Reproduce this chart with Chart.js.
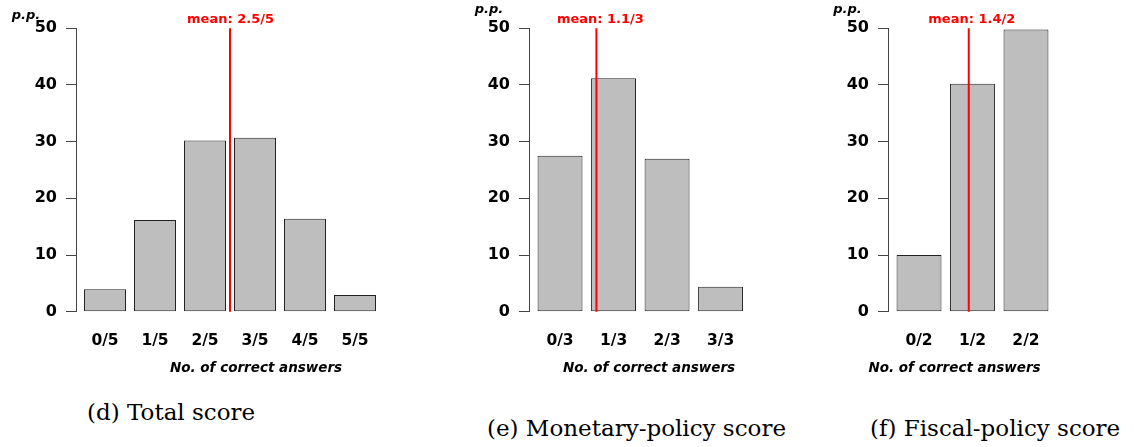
<!DOCTYPE html>
<html>
<head>
<meta charset="utf-8">
<script src="https://cdn.jsdelivr.net/npm/chart.js@4.4.0/dist/chart.umd.min.js"></script>
<style>
  html, body { margin: 0; padding: 0; background: #fff; }
  #wrap { position: relative; width: 1134px; height: 447px; overflow: hidden; }
  canvas { position: absolute; top: 0; }
  .cap { position: absolute; font-family: "DejaVu Serif", serif; font-size: 23px; line-height: 1; color: #000; white-space: nowrap; }
</style>
</head>
<body>
<div id="wrap">
  <canvas id="c1" width="400" height="390" style="left:0px"></canvas>
  <canvas id="c2" width="330" height="390" style="left:440px"></canvas>
  <canvas id="c3" width="334" height="390" style="left:800px"></canvas>
  <div class="cap" style="left:87px;top:401px">(d) Total score</div>
  <div class="cap" style="left:487px;top:417px">(e) Monetary-policy score</div>
  <div class="cap" style="left:870px;top:417px">(f) Fiscal-policy score</div>
</div>
<script>
// share of respondents (p.p.) per number of correct answers
const totalLabels = ["0/5", "1/5", "2/5", "3/5", "4/5", "5/5"];
const totalValues = [3.95, 16.2, 30.2, 30.7, 16.4, 2.95];

const monetaryLabels = ["0/3", "1/3", "2/3", "3/3"];
const monetaryValues = [27.5, 41.2, 27.0, 4.4];

const fiscalLabels = ["0/2", "1/2", "2/2"];
const fiscalValues = [10.0, 40.2, 49.8];

// mean markers: text and where the red line sits (in bar-index units)
const meanTexts = ["mean: 2.5/5", "mean: 1.1/3", "mean: 1.4/2"];
const meanPositions = [2.5, 0.68, 0.93];

const yTicks = [0, 10, 20, 30, 40, 50];
const xTitle = "No. of correct answers";
const yUnit = "p.p.";

// layout per panel (pixels inside each canvas)
const layouts = [
  { id: "c1", yWidth: 76, padRight: 16, ppX: -50, ppY: 19, titleX: 180, labelShift: 0.5 },
  { id: "c2", yWidth: 89, padRight: 18.4, ppX: -40, ppY: 13, titleX: 120, labelShift: 4 },
  { id: "c3", yWidth: 88, padRight: 77, ppX: -40.5, ppY: 13, titleX: 66.5, labelShift: 3 },
];

const BAR_FILL = "#bebebe";
const BAR_EDGE = "#222222";
const AXIS = "#444444";
const RED = "#ff0000";

// draws mean line + label, unit label and x title
const panelText = {
  id: "panel_text",
  afterDatasetsDraw(chart, args, opts) {
    const { ctx, chartArea, scales } = chart;
    const mx = scales.x.getPixelForValue(opts.meanPos);

    ctx.save();
    ctx.strokeStyle = RED;
    ctx.lineWidth = 2;
    ctx.beginPath();
    ctx.moveTo(mx, scales.y.getPixelForValue(0));
    ctx.lineTo(mx, scales.y.getPixelForValue(50));
    ctx.stroke();

    ctx.fillStyle = RED;
    ctx.font = "bold 13px 'DejaVu Sans'";
    ctx.textAlign = "center";
    ctx.textBaseline = "alphabetic";
    ctx.fillText(opts.meanText, mx + opts.labelShift, 23);

    ctx.fillStyle = "#000";
    ctx.font = "italic bold 13px 'DejaVu Sans'";
    ctx.fillText(yUnit, chartArea.left + opts.ppX, opts.ppY);

    ctx.font = "italic bold 13.5px 'DejaVu Sans'";
    ctx.fillText(xTitle, chartArea.left + opts.titleX, 372);
    ctx.restore();
  },
};

function makeChart(lay, labels, values, meanText, meanPos) {
  const ctx = document.getElementById(lay.id);
  return new Chart(ctx, {
    type: "bar",
    data: {
      datasets: [
        {
          data: values.map((v, i) => ({ x: i, y: v })),
          backgroundColor: BAR_FILL,
          borderColor: BAR_EDGE,
          borderWidth: 1,
          borderSkipped: false,
          categoryPercentage: 1.0,
          barPercentage: 0.84,
        },
      ],
    },
    options: {
      responsive: false,
      animation: false,
      layout: { padding: { top: 28.3, left: 0, right: lay.padRight, bottom: 0 } },
      scales: {
        x: {
          type: "linear",
          offset: false,
          min: -0.58,
          max: labels.length - 0.42,
          afterBuildTicks: (s) => {
            s.ticks = labels.map((_, i) => ({ value: i }));
          },
          afterFit: (s) => {
            s.height = 78.3;
            s.paddingLeft = 0;
            s.paddingRight = 0;
          },
          grid: { display: false, drawTicks: false, offset: false },
          border: { display: false },
          ticks: {
            autoSkip: false,
            maxRotation: 0,
            padding: 20,
            color: "#000",
            font: { family: "DejaVu Sans", weight: "bold", size: 15.5 },
            callback: (v) => labels[v],
          },
        },
        y: {
          min: 0,
          max: 50,
          afterBuildTicks: (s) => {
            s.ticks = yTicks.map((v) => ({ value: v }));
          },
          afterFit: (s) => {
            s.width = lay.yWidth;
          },
          grid: {
            drawOnChartArea: false,
            drawTicks: true,
            tickLength: 10,
            tickColor: AXIS,
          },
          border: { display: true, color: AXIS, width: 1 },
          ticks: {
            padding: 9,
            color: "#000",
            font: { family: "DejaVu Sans", weight: "bold", size: 16 },
          },
        },
      },
      plugins: {
        legend: { display: false },
        tooltip: { enabled: false },
        panel_text: {
          meanText: meanText,
          meanPos: meanPos,
          ppX: lay.ppX,
          ppY: lay.ppY,
          titleX: lay.titleX,
          labelShift: lay.labelShift,
        },
      },
    },
    plugins: [panelText],
  });
}

makeChart(layouts[0], totalLabels, totalValues, meanTexts[0], meanPositions[0]);
makeChart(layouts[1], monetaryLabels, monetaryValues, meanTexts[1], meanPositions[1]);
makeChart(layouts[2], fiscalLabels, fiscalValues, meanTexts[2], meanPositions[2]);
</script>
</body>
</html>
